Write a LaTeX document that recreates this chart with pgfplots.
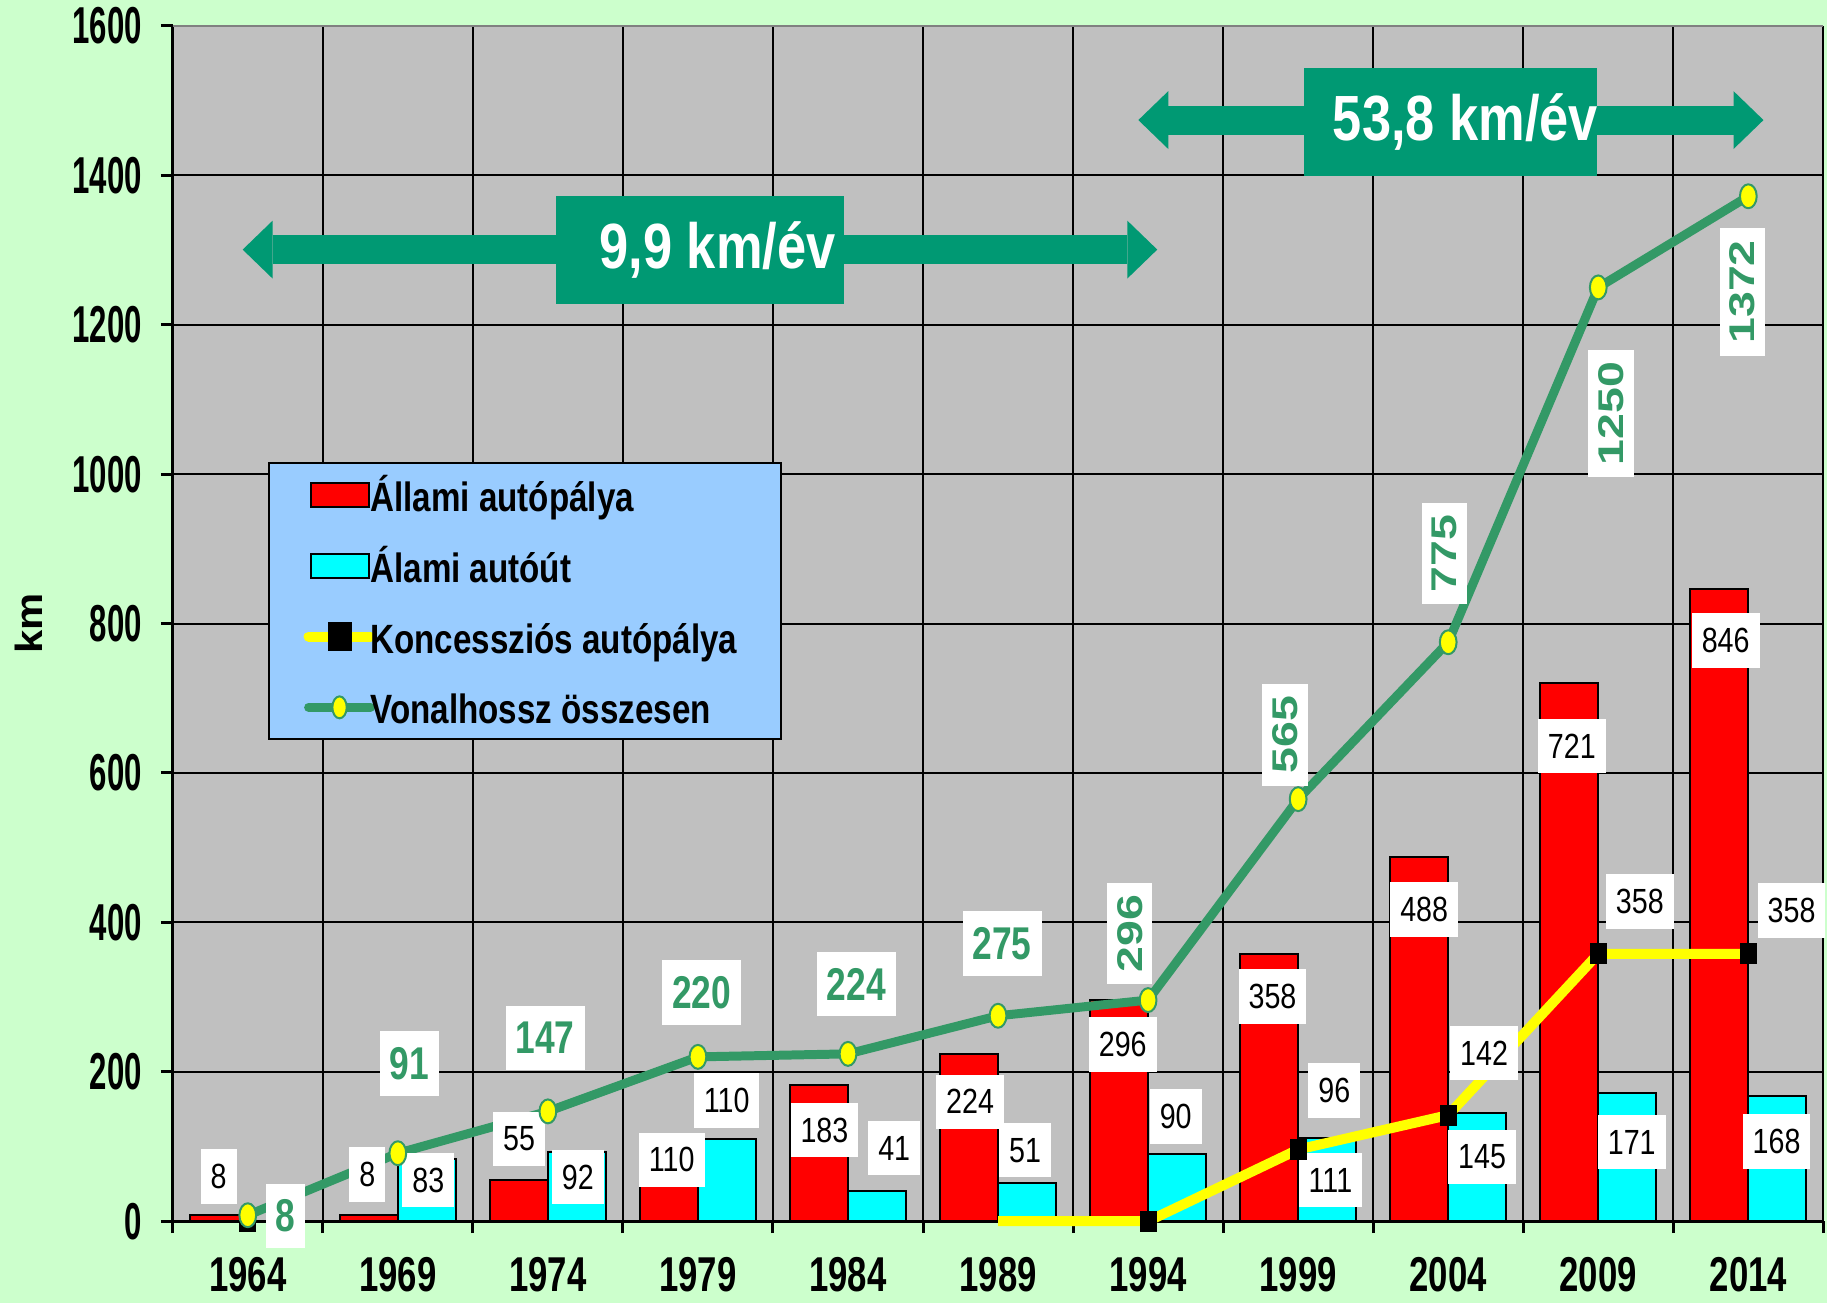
\documentclass[border=0pt]{standalone}
\usepackage{fontspec}
\setmainfont{Liberation Sans}
\newfontfamily\tickfont{Liberation Sans}[FakeStretch=0.60]
\newfontfamily\yearfont{Liberation Sans}[FakeStretch=0.71]
\newfontfamily\legfont{Liberation Sans}[FakeStretch=0.81]
\newfontfamily\labfont{Liberation Sans}[FakeStretch=0.82]
\newfontfamily\grnfont{Liberation Sans}[FakeStretch=0.77]
\newfontfamily\rotfont{Liberation Sans}[FakeStretch=1.30]
\newfontfamily\boxfont{Liberation Sans}[FakeStretch=0.82]
\newfontfamily\kmfont{Liberation Sans}[FakeStretch=1.10]
\usepackage{pgfplots}
\usepackage{pgfplotstable}
\pgfplotsset{compat=1.18}
\usetikzlibrary{arrows.meta}

\definecolor{pagegreen}{HTML}{CCFFCC}
\definecolor{plotgray}{HTML}{C0C0C0}
\definecolor{legblue}{HTML}{99CCFF}
\definecolor{arrowgreen}{HTML}{009973}
\definecolor{linegreen}{HTML}{339966}
\definecolor{barred}{HTML}{FF0000}
\definecolor{barcyan}{HTML}{00FFFF}
\definecolor{concyellow}{HTML}{FFFF00}
\definecolor{edgegray}{HTML}{808080}

% km per year: state motorways, state expressways
\pgfplotstableread{
idx year allami autout
0  1964 8   nan
1  1969 8   83
2  1974 55  92
3  1979 110 110
4  1984 183 41
5  1989 224 51
6  1994 296 90
7  1999 358 111
8  2004 488 145
9  2009 721 171
10 2014 846 168
}\bars

% concession motorways (line part)
\pgfplotstableread{
idx konc
5  0
6  0
7  96
8  142
9  358
10 358
}\koncline

% concession motorways (marked points)
\pgfplotstableread{
idx konc
0  0
6  0
7  96
8  142
9  358
10 358
}\koncmarks

% total network length
\pgfplotstableread{
idx total
0  8
1  91
2  147
3  220
4  224
5  275
6  296
7  565
8  775
9  1250
10 1372
}\total

\newcommand{\legstrut}{\vphantom{Ápy}}

\tikzset{
  blab/.style={fill=white, inner xsep=5pt, inner ysep=7.5pt, font=\fontsize{17.5}{20}\labfont},
  glab/.style={fill=white, inner xsep=5pt, inner ysep=8pt, text=linegreen, font=\fontsize{23}{26}\grnfont\bfseries},
  rlab/.style={fill=white, rotate=90, inner xsep=6pt, inner ysep=5pt, text=linegreen, font=\fontsize{17.9}{20}\rotfont\bfseries},
}

\begin{document}
\begin{tikzpicture}
\fill[pagegreen] (-86.5pt,-41pt) rectangle (828.5pt,611.5pt);
\begin{axis}[
  at={(0pt,0pt)}, anchor=south west,
  scale only axis, width=826.5pt, height=598.5pt,
  xmin=-0.5, xmax=10.5, ymin=0, ymax=1600,
  clip=false,
  axis background/.style={fill=plotgray},
  axis x line*=bottom, axis y line*=left,
  axis line style={-, black, line width=1.5pt},
  xtick={-0.5,0.5,...,10.5}, xticklabels={},
  extra x ticks={0,1,...,10},
  extra x tick labels={1964,1969,1974,1979,1984,1989,1994,1999,2004,2009,2014},
  extra x tick style={major tick length=0pt, grid=none,
    xticklabel style={font=\fontsize{24.5}{26}\yearfont\bfseries, overlay, yshift=-14.35pt}},
  ytick={0,200,...,1400},
  extra y ticks={1600},
  extra y tick style={grid=none},
  grid=major, major grid style={black, line width=1pt},
  tick align=outside, major tick length=6pt,
  tick style={black, line width=1.5pt},
  yticklabel style={font=\fontsize{26}{28}\tickfont\bfseries, xshift=-6pt},
  /pgf/number format/assume math mode=true,
  /pgf/number format/1000 sep={},
  ylabel={km},
  ylabel style={at={(axis description cs:-0.0871,0.5)}, anchor=center, font=\fontsize{19}{22}\kmfont\bfseries},
  legend style={at={(0.0575,0.635)}, anchor=north west,
    fill=legblue, draw=black, line width=1pt,
    font=\fontsize{20.5}{24}\legfont\bfseries,
    inner xsep=14pt, inner ysep=4pt, row sep=11.8pt},
  legend cell align=left,
]
\addplot[ybar, bar width=0.386, bar shift=-0.193, fill=barred, draw=black, line width=1pt,
  legend image code/.code={\path (0pt,0pt) (30pt,0pt); \draw[overlay, fill=barred, draw=black, line width=1pt] (4.5pt,-6pt) rectangle (33.5pt,6pt);}]
  table[x=idx, y=allami] {\bars};
\addlegendentry{\legstrut Állami autópálya}
\addplot[ybar, bar width=0.386, bar shift=0.193, fill=barcyan, draw=black, line width=1pt,
  legend image code/.code={\path (0pt,0pt) (30pt,0pt); \draw[overlay, fill=barcyan, draw=black, line width=1pt] (4.5pt,-6pt) rectangle (33.5pt,6pt);}]
  table[x=idx, y=autout] {\bars};
\addlegendentry{\legstrut Álami autóút}
\addlegendimage{concyellow, line width=5pt,
  legend image code/.code={\path (0pt,0pt) (30pt,0pt); \draw[overlay, concyellow, line width=5pt, line cap=round] (3.5pt,0pt) -- (34.5pt,0pt); \fill[overlay, black] (15.5pt,-5pt) rectangle (22.5pt,5pt);}}
\addlegendentry{\legstrut Koncessziós autópálya\hspace*{6pt}}
\addplot[concyellow, line width=5pt, line join=round, forget plot] table[x=idx, y=konc] {\koncline};
\addplot[only marks, mark=square*, mark size=5pt, mark options={xscale=0.8, fill=black, draw=black}, forget plot]
  table[x=idx, y=konc] {\koncmarks};
\addplot[linegreen, line width=4.5pt, line join=round, mark=*, mark size=6pt,
  mark options={xscale=0.7, fill=concyellow, draw=linegreen, line width=1pt},
  legend image code/.code={\path (0pt,0pt) (30pt,0pt); \draw[overlay, linegreen, line width=4.5pt, line cap=round] (3.5pt,0pt) -- (34.5pt,0pt); \filldraw[overlay, fill=concyellow, draw=linegreen, line width=1pt] (19pt,0pt) ellipse (3.6pt and 5.5pt);}]
  table[x=idx, y=total] {\total};
\addlegendentry{\legstrut Vonalhossz összesen}

% top edge of the plot area
\draw[edgegray, line width=1pt] (rel axis cs:0,1) -- (rel axis cs:1,1);

% growth-rate arrows
\draw[arrowgreen, line width=14.5pt, {Triangle[width=29pt,length=15pt,line width=0pt]}-{Triangle[width=29pt,length=15pt,line width=0pt]}]
  (axis cs:-0.034,1300.6) -- (axis cs:6.061,1300.6);
\node[fill=arrowgreen, minimum width=144pt, minimum height=54pt, inner sep=0pt] at (axis cs:3.014,1300.6) {};
\node[text=white, inner sep=0pt, font=\fontsize{32}{34}\boxfont\bfseries, xshift=8.75pt] at (axis cs:3.014,1300.6) {9,9 km/év};
\draw[arrowgreen, line width=14.5pt, {Triangle[width=29pt,length=15pt,line width=0pt]}-{Triangle[width=29pt,length=15pt,line width=0pt]}]
  (axis cs:5.935,1474) -- (axis cs:10.101,1474);
\node[fill=arrowgreen, minimum width=146.5pt, minimum height=54pt, inner sep=0pt] at (axis cs:8.015,1471.7) {};
\node[text=white, inner sep=0pt, font=\fontsize{32}{34}\boxfont\bfseries, xshift=7.5pt] at (axis cs:8.015,1471.7) {53,8 km/év};

% value labels: state motorways, expressways, concessions
\node[blab] at (axis cs:-0.194,60) {8};
\node[blab] at (axis cs:0.797,63) {8};
\node[blab] at (axis cs:1.203,55) {83};
\node[blab] at (axis cs:1.808,110) {55};
\node[blab] at (axis cs:2.200,59) {92};
\node[blab] at (axis cs:2.825,82) {110};
\node[blab] at (axis cs:3.191,162) {110};
\node[blab] at (axis cs:3.843,122) {183};
\node[blab] at (axis cs:4.308,98) {41};
\node[blab] at (axis cs:4.814,160) {224};
\node[blab] at (axis cs:5.180,95) {51};
\node[blab] at (axis cs:5.831,237) {296};
\node[blab] at (axis cs:6.184,140) {90};
\node[blab] at (axis cs:6.829,301) {358};
\node[blab] at (axis cs:7.241,175) {96};
\node[blab] at (axis cs:7.215,55) {111};
\node[blab] at (axis cs:7.840,417) {488};
\node[blab] at (axis cs:8.239,225) {142};
\node[blab] at (axis cs:8.226,86) {145};
\node[blab] at (axis cs:8.824,636) {721};
\node[blab] at (axis cs:9.277,428) {358};
\node[blab] at (axis cs:9.223,106) {171};
\node[blab] at (axis cs:9.849,777) {846};
\node[blab] at (axis cs:10.288,416) {358};
\node[blab] at (axis cs:10.188,107) {168};

% value labels: total length
\node[glab] at (axis cs:0.252,7) {8};
\node[glab] at (axis cs:1.076,211) {91};
\node[glab] at (axis cs:1.981,245) {147};
\node[glab] at (axis cs:3.025,306) {220};
\node[glab] at (axis cs:4.056,317) {224};
\node[glab] at (axis cs:5.027,372) {275};
\node[rlab] at (axis cs:5.878,385) {296};
\node[rlab] at (axis cs:6.913,651) {565};
\node[rlab] at (axis cs:7.973,894) {775};
\node[rlab] at (axis cs:9.084,1081) {1250};
\node[rlab] at (axis cs:9.962,1244) {1372};
\end{axis}
\end{tikzpicture}
\end{document}
